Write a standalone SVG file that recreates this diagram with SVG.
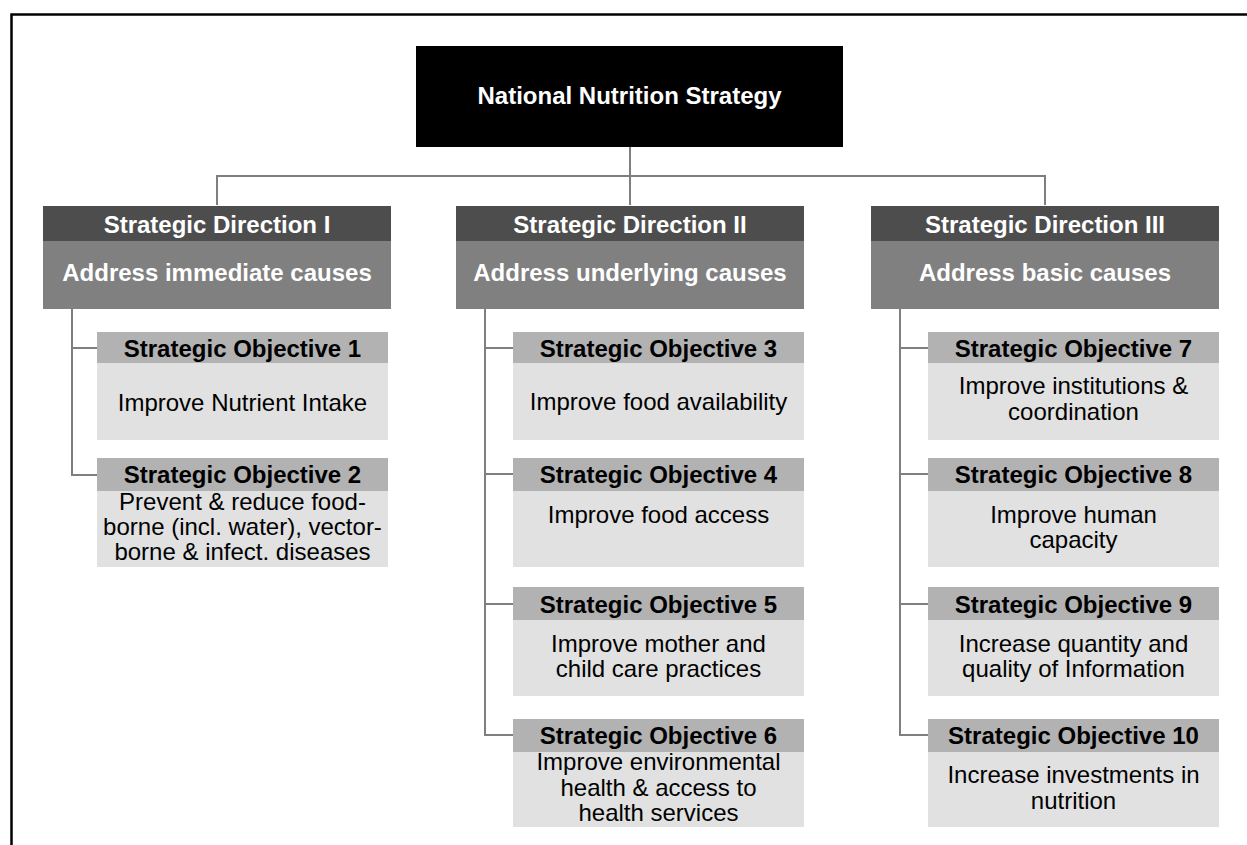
<svg xmlns="http://www.w3.org/2000/svg" width="1247" height="845" viewBox="0 0 1247 845">
<style>
.bg{fill:#ffffff}
.frame{fill:none;stroke:#000;stroke-width:2.5}
.top{fill:#000}
.dh{fill:#4d4d4d}
.dc{fill:#808080}
.oh{fill:#b2b2b2}
.ob{fill:#e1e1e1}
.conn{fill:none;stroke:#7f7f7f;stroke-width:2}
text{font-family:"Liberation Sans",Arial,sans-serif;font-size:24px;text-anchor:middle}
.w{fill:#fff;font-weight:bold}
.b{fill:#000;font-weight:bold}
.r{fill:#000}
</style>
<rect class="bg" x="0" y="0" width="1247" height="845"/>
<path class="frame" d="M11.5,845 V14.5 H1247"/>
<g id="connectors">
<path class="conn" d="M630,147 V205 M217,205 V176 H1045 V205"/>
<path class="conn" d="M72,309 V475 H97 M72,348 H97"/>
<path class="conn" d="M485,309 V735 H513 M485,348 H513 M485,474 H513 M485,604 H513"/>
<path class="conn" d="M900,309 V735 H928 M900,348 H928 M900,474 H928 M900,604 H928"/>
</g>
<g id="root">
<rect class="top" x="416" y="46" width="427" height="101"/>
<text class="w" x="629.5" y="104">National Nutrition Strategy</text>
</g>
<g id="dir1">
<rect class="dh" x="43" y="206" width="348" height="35"/>
<rect class="dc" x="43" y="241" width="348" height="68"/>
<text class="w" x="217" y="233">Strategic Direction I</text>
<text class="w" x="217" y="281">Address immediate causes</text>
</g>
<g id="dir2">
<rect class="dh" x="456" y="206" width="348" height="35"/>
<rect class="dc" x="456" y="241" width="348" height="68"/>
<text class="w" x="630" y="233">Strategic Direction II</text>
<text class="w" x="630" y="281">Address underlying causes</text>
</g>
<g id="dir3">
<rect class="dh" x="871" y="206" width="348" height="35"/>
<rect class="dc" x="871" y="241" width="348" height="68"/>
<text class="w" x="1045" y="233">Strategic Direction III</text>
<text class="w" x="1045" y="281">Address basic causes</text>
</g>
<g id="obj1">
<rect class="oh" x="97" y="332" width="291" height="31"/>
<rect class="ob" x="97" y="363" width="291" height="77"/>
<text class="b" x="242.5" y="357">Strategic Objective 1</text>
<text class="r" x="242.5" y="411">Improve Nutrient Intake</text>
</g>
<g id="obj2">
<rect class="oh" x="97" y="458" width="291" height="33"/>
<rect class="ob" x="97" y="491" width="291" height="76"/>
<text class="b" x="242.5" y="483">Strategic Objective 2</text>
<text class="r" x="242.5" y="510">Prevent &amp; reduce food-</text>
<text class="r" x="242.5" y="535">borne (incl. water), vector-</text>
<text class="r" x="242.5" y="560">borne &amp; infect. diseases</text>
</g>
<g id="obj3">
<rect class="oh" x="513" y="332" width="291" height="31"/>
<rect class="ob" x="513" y="363" width="291" height="77"/>
<text class="b" x="658.5" y="357">Strategic Objective 3</text>
<text class="r" x="658.5" y="410">Improve food availability</text>
</g>
<g id="obj4">
<rect class="oh" x="513" y="458" width="291" height="33"/>
<rect class="ob" x="513" y="491" width="291" height="76"/>
<text class="b" x="658.5" y="483">Strategic Objective 4</text>
<text class="r" x="658.5" y="523">Improve food access</text>
</g>
<g id="obj5">
<rect class="oh" x="513" y="587" width="291" height="33"/>
<rect class="ob" x="513" y="620" width="291" height="76"/>
<text class="b" x="658.5" y="613">Strategic Objective 5</text>
<text class="r" x="658.5" y="652">Improve mother and</text>
<text class="r" x="658.5" y="677">child care practices</text>
</g>
<g id="obj6">
<rect class="oh" x="513" y="719" width="291" height="33"/>
<rect class="ob" x="513" y="752" width="291" height="75"/>
<text class="b" x="658.5" y="744">Strategic Objective 6</text>
<text class="r" x="658.5" y="770">Improve environmental</text>
<text class="r" x="658.5" y="796">health &amp; access to</text>
<text class="r" x="658.5" y="821">health services</text>
</g>
<g id="obj7">
<rect class="oh" x="928" y="332" width="291" height="31"/>
<rect class="ob" x="928" y="363" width="291" height="77"/>
<text class="b" x="1073.5" y="357">Strategic Objective 7</text>
<text class="r" x="1073.5" y="394">Improve institutions &amp;</text>
<text class="r" x="1073.5" y="420">coordination</text>
</g>
<g id="obj8">
<rect class="oh" x="928" y="458" width="291" height="33"/>
<rect class="ob" x="928" y="491" width="291" height="76"/>
<text class="b" x="1073.5" y="483">Strategic Objective 8</text>
<text class="r" x="1073.5" y="523">Improve human</text>
<text class="r" x="1073.5" y="548">capacity</text>
</g>
<g id="obj9">
<rect class="oh" x="928" y="587" width="291" height="33"/>
<rect class="ob" x="928" y="620" width="291" height="76"/>
<text class="b" x="1073.5" y="613">Strategic Objective 9</text>
<text class="r" x="1073.5" y="652">Increase quantity and</text>
<text class="r" x="1073.5" y="677">quality of Information</text>
</g>
<g id="obj10">
<rect class="oh" x="928" y="719" width="291" height="33"/>
<rect class="ob" x="928" y="752" width="291" height="75"/>
<text class="b" x="1073.5" y="744">Strategic Objective 10</text>
<text class="r" x="1073.5" y="783">Increase investments in</text>
<text class="r" x="1073.5" y="809">nutrition</text>
</g>
</svg>
